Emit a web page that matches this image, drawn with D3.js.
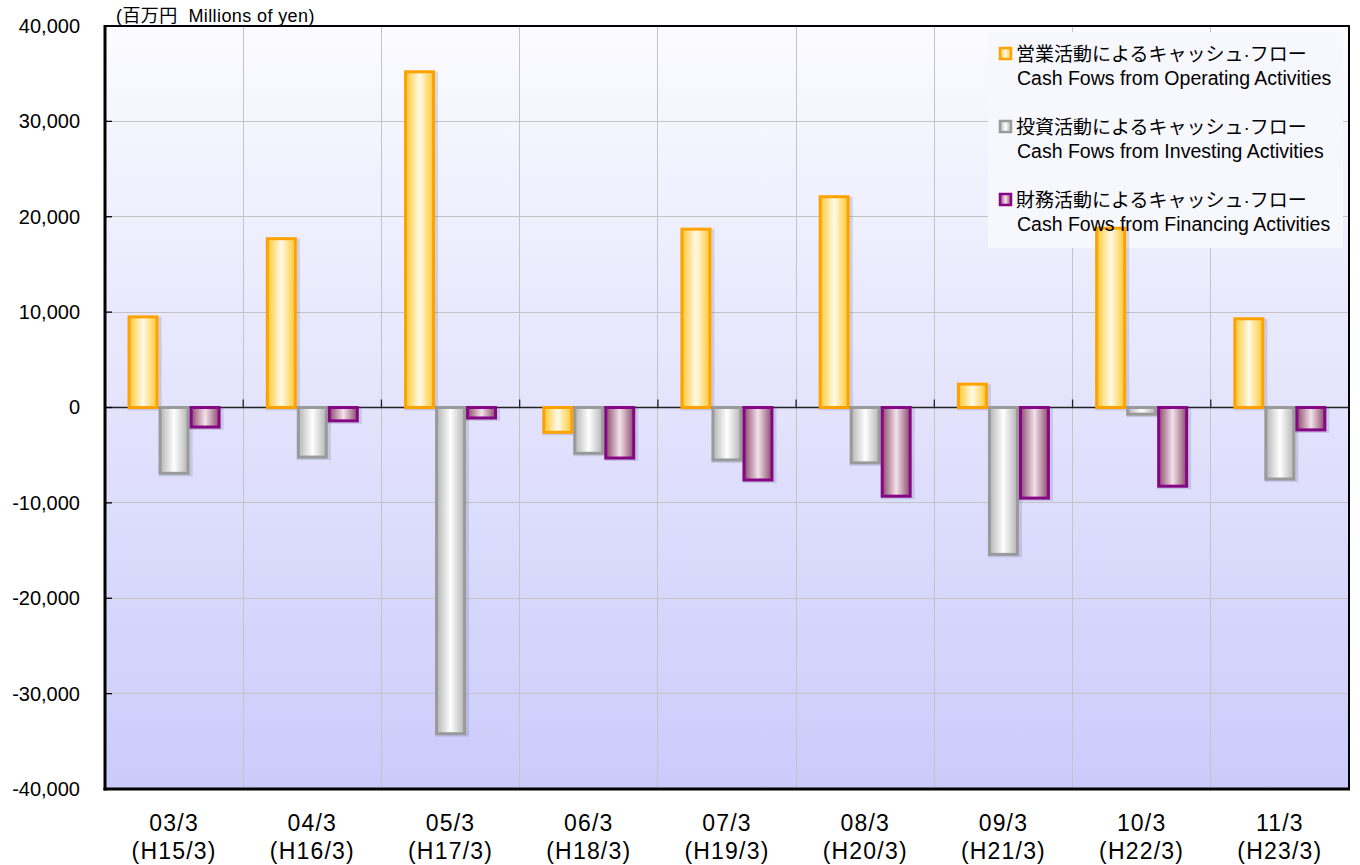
<!DOCTYPE html>
<html><head><meta charset="utf-8">
<script src="https://cdn.jsdelivr.net/npm/d3@7"></script>
<style>
body{margin:0;background:#fff;}
text{font-family:"Liberation Sans",Arial,"Noto Sans CJK JP",sans-serif;fill:#000;}
</style></head>
<body>
<svg id="chart" width="1360" height="865"></svg>
<script>
const categories = ["03/3","04/3","05/3","06/3","07/3","08/3","09/3","10/3","11/3"];
const categories2 = ["(H15/3)","(H16/3)","(H17/3)","(H18/3)","(H19/3)","(H20/3)","(H21/3)","(H22/3)","(H23/3)"];
const seriesKeys = ["operating","investing","financing"];
const operating = [9500, 17700, 35200, -2600, 18700, 22100, 2450, 18800, 9300];
const investing = [-6900, -5200, -34200, -4800, -5500, -5800, -15400, -700, -7500];
const financing = [-2050, -1400, -1100, -5300, -7600, -9300, -9500, -8250, -2350];
const legendJa = ["営業活動によるキャッシュ·フロー","投資活動によるキャッシュ·フロー","財務活動によるキャッシュ·フロー"];
const legendEn = ["Cash Fows from Operating Activities","Cash Fows from Investing Activities","Cash Fows from Financing Activities"];
const yTicks = [40000,30000,20000,10000,0,-10000,-20000,-30000,-40000];
const unitLabel = "(百万円\u00a0\u00a0Millions of yen)";

const seriesData = {operating, investing, financing};
const styles = {
  operating:{stroke:"#ffa200", edge:"#ffc830", mid:"#fffae8"},
  investing:{stroke:"#9a9a9a", edge:"#b4b4b4", mid:"#ffffff"},
  financing:{stroke:"#860686", edge:"#8c4a6c", mid:"#f2e2ea"}
};

const svg = d3.select("#chart");
const L=105, R=1349, T=26, B=789;

const x = d3.scaleBand().domain(categories).range([L,R]).padding(0);
const xi = d3.scaleBand().domain(seriesKeys).range([0,x.bandwidth()]).paddingInner(0).paddingOuter(0.73);
const y = d3.scaleLinear().domain([-40000,40000]).range([B,T]);

const defs = svg.append("defs");
const bg = defs.append("linearGradient").attr("id","bg").attr("x1",0).attr("y1",0).attr("x2",0).attr("y2",1);
bg.append("stop").attr("offset","0%").attr("stop-color","#fbfbff");
bg.append("stop").attr("offset","100%").attr("stop-color","#cbcbfb");
seriesKeys.forEach(k=>{
  const g = defs.append("linearGradient").attr("id","g_"+k).attr("x1",0).attr("y1",0).attr("x2",1).attr("y2",0);
  g.append("stop").attr("offset","0%").attr("stop-color",styles[k].edge);
  g.append("stop").attr("offset","50%").attr("stop-color",styles[k].mid);
  g.append("stop").attr("offset","100%").attr("stop-color",styles[k].edge);
});

svg.append("rect").attr("x",L).attr("y",T).attr("width",R-L).attr("height",B-T).attr("fill","url(#bg)");

svg.append("g").selectAll("line").data(yTicks).join("line")
  .attr("x1",L).attr("x2",R).attr("y1",d=>y(d)).attr("y2",d=>y(d))
  .attr("stroke","#c4c4c4").attr("stroke-width",1).attr("shape-rendering","crispEdges");
svg.append("g").selectAll("line").data(categories.slice(1)).join("line")
  .attr("x1",d=>x(d)).attr("x2",d=>x(d)).attr("y1",T).attr("y2",B)
  .attr("stroke","#c4c4c4").attr("stroke-width",1).attr("shape-rendering","crispEdges");

const lgX=988, lgY=32, lgW=355, lgH=216;
svg.append("rect").attr("x",lgX).attr("y",lgY).attr("width",lgW).attr("height",lgH).attr("fill","#f7f7fe");

svg.append("line").attr("x1",L).attr("x2",R).attr("y1",y(0)).attr("y2",y(0))
  .attr("stroke","#222").attr("stroke-width",1.3);
svg.append("g").selectAll("line").data(categories.slice(1)).join("line")
  .attr("x1",d=>x(d)).attr("x2",d=>x(d)).attr("y1",y(0)-8).attr("y2",y(0))
  .attr("stroke","#222").attr("stroke-width",1.3);

const groups = svg.append("g").selectAll("g").data(seriesKeys).join("g");
groups.each(function(k){
  const g = d3.select(this);
  const vals = seriesData[k];
  g.selectAll("rect.sh").data(vals).join("rect").attr("class","sh")
    .attr("x",(d,i)=>x(categories[i])+xi(k)+1.5)
    .attr("y",d=>Math.min(y(d),y(0))+1.5)
    .attr("width",xi.bandwidth())
    .attr("height",d=>Math.abs(y(d)-y(0)))
    .attr("fill","none").attr("stroke","rgba(80,80,120,0.18)").attr("stroke-width",3);
  g.selectAll("rect.bar").data(vals).join("rect").attr("class","bar")
    .attr("x",(d,i)=>x(categories[i])+xi(k)+1.5)
    .attr("y",d=>Math.min(y(d),y(0)))
    .attr("width",xi.bandwidth()-3)
    .attr("height",d=>Math.abs(y(d)-y(0)))
    .attr("fill","url(#g_"+k+")").attr("stroke",styles[k].stroke).attr("stroke-width",3);
});

svg.append("line").attr("x1",L).attr("x2",R).attr("y1",T).attr("y2",T).attr("stroke","#000").attr("stroke-width",2);
svg.append("line").attr("x1",R).attr("x2",R).attr("y1",T-1).attr("y2",B).attr("stroke","#000").attr("stroke-width",2);
svg.append("line").attr("x1",L).attr("x2",L).attr("y1",T-1).attr("y2",B+1.5).attr("stroke","#000").attr("stroke-width",3);
svg.append("line").attr("x1",L-1.5).attr("x2",R+1).attr("y1",B).attr("y2",B).attr("stroke","#000").attr("stroke-width",3);

const yAxis = d3.axisLeft(y).tickValues(yTicks).tickSize(0).tickPadding(25)
  .tickFormat(d=> d<0 ? "-" + d3.format(",")(-d) : d3.format(",")(d));
const ya = svg.append("g").attr("transform",`translate(${L},0)`).call(yAxis);
ya.select(".domain").remove();
ya.selectAll("text").attr("font-size",20).attr("font-family","'Liberation Sans',Arial,sans-serif").attr("fill","#111");
svg.append("g").selectAll("line").data(yTicks.slice(1,-1)).join("line")
  .attr("x1",L).attr("x2",L+7).attr("y1",d=>y(d)).attr("y2",d=>y(d))
  .attr("stroke","#000").attr("stroke-width",1.3);

const xl = svg.append("g");
xl.selectAll("text.l1").data(categories).join("text").attr("class","l1")
  .attr("x",d=>x(d)+x.bandwidth()/2).attr("y",831).attr("text-anchor","middle")
  .attr("font-size",23).attr("letter-spacing",1.2).text(d=>d);
xl.selectAll("text.l2").data(categories2).join("text").attr("class","l2")
  .attr("x",(d,i)=>x(categories[i])+x.bandwidth()/2).attr("y",859).attr("text-anchor","middle")
  .attr("font-size",23).attr("letter-spacing",1.2).text(d=>d);

svg.append("text").attr("x",116).attr("y",22).attr("font-size",18).attr("letter-spacing",0.4)
  .attr("font-family","'Liberation Sans',Arial,'Noto Sans CJK JP',sans-serif").text(unitLabel);

const lg = svg.append("g");
seriesKeys.forEach((k,i)=>{
  const yy = 55 + i*73;
  lg.append("rect").attr("x",1000).attr("y",yy-7).attr("width",11).attr("height",11)
    .attr("fill","url(#g_"+k+")").attr("stroke",styles[k].stroke).attr("stroke-width",2.5);
  lg.append("text").attr("x",1016).attr("y",yy+6).attr("font-size",19)
    .attr("font-family","'Noto Sans CJK JP',sans-serif").text(legendJa[i]);
  lg.append("text").attr("x",1017).attr("y",yy+30).attr("font-size",19.5)
    .attr("font-family","'Liberation Sans',Arial,sans-serif").text(legendEn[i]);
});
</script>
</body></html>
